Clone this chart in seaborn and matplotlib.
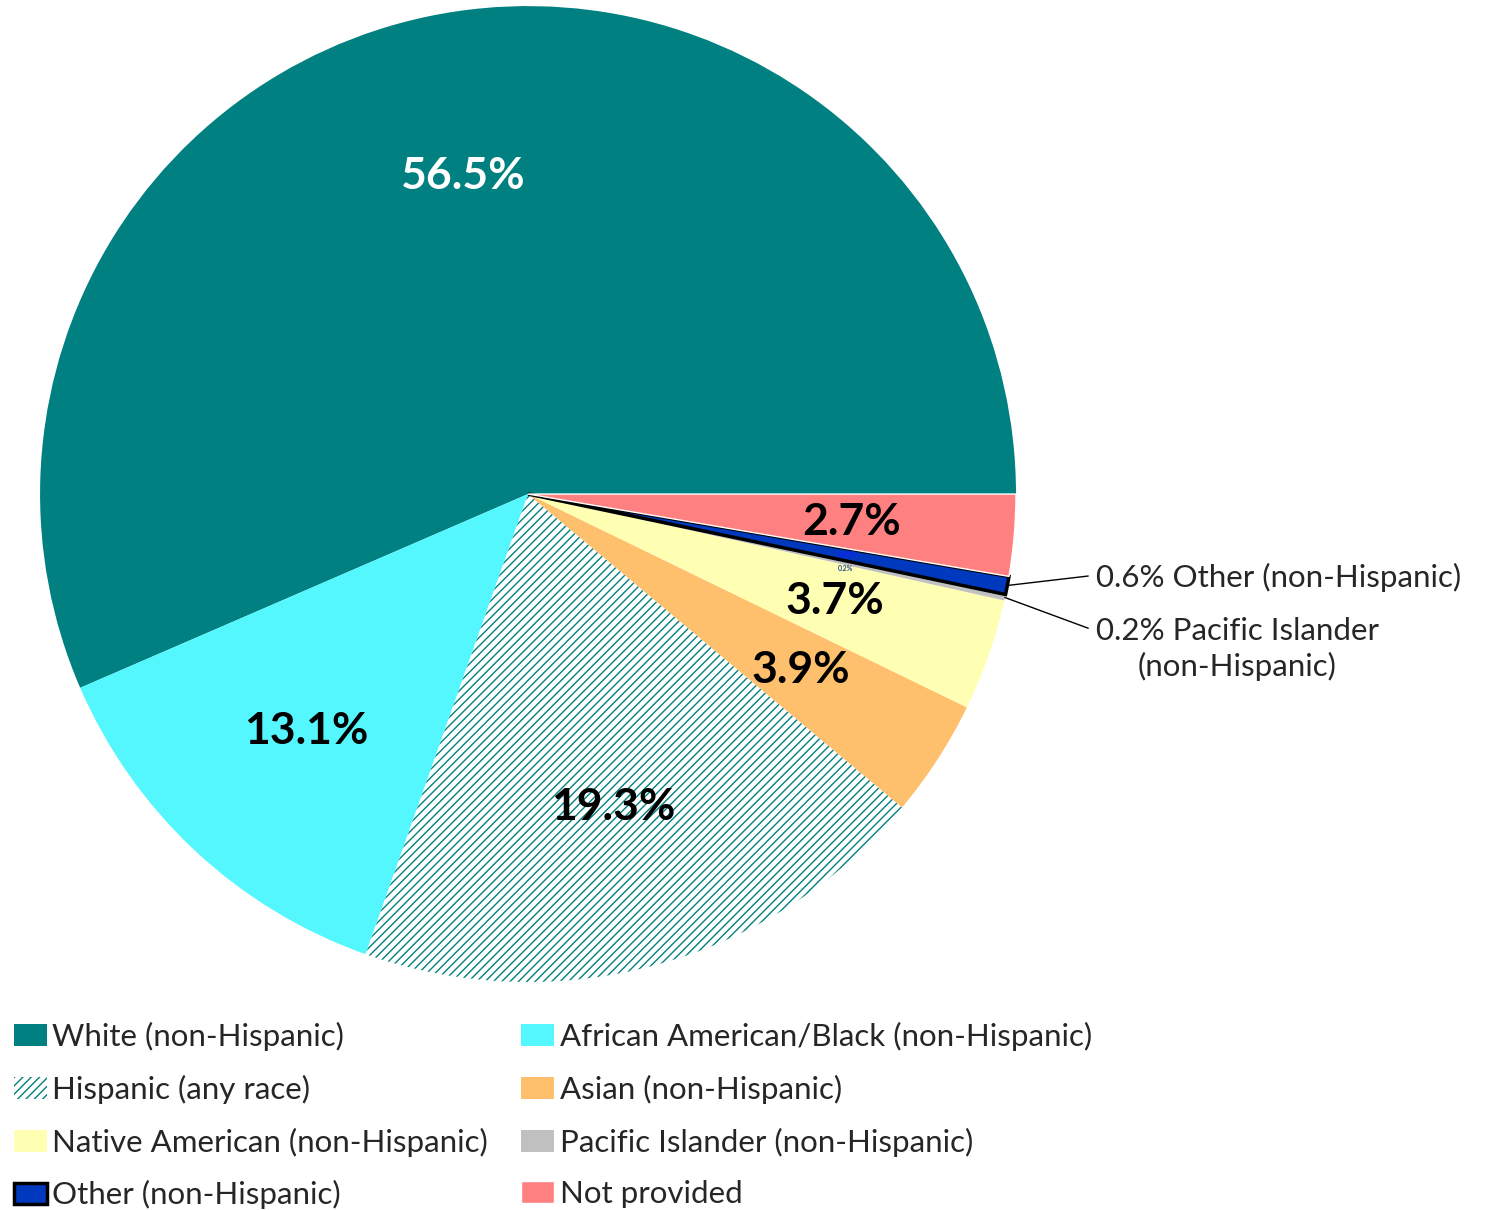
import matplotlib.pyplot as plt
import seaborn as sns
import numpy as np

categories = ["White (non-Hispanic)", "African American/Black (non-Hispanic)", "Hispanic (any race)",
              "Asian (non-Hispanic)", "Native American (non-Hispanic)", "Pacific Islander (non-Hispanic)",
              "Other (non-Hispanic)", "Not provided"]
shares = [56.5, 13.1, 19.3, 3.9, 3.7, 0.2, 0.6, 2.7]
colors = ["#008080", "#55F7FF", "#FFFFFF", "#FFC06E", "#FFFFB3", "#C0C0C0", "#0039BE", "#FF8080"]


sns.set_theme(style="white")
plt.rcParams['font.family'] = ['Lato', 'DejaVu Sans']
plt.rcParams['hatch.linewidth'] = 1.0

fig = plt.figure(figsize=(14.95, 12.1), dpi=100)
ax = fig.add_axes([0.0268, 0.1884, 0.6528, 0.8066])

wedges, texts, autotexts = ax.pie(shares, colors=colors, startangle=0, counterclock=True,
                                  autopct=lambda p: f"{p:.1f}%", pctdistance=0.665,
                                  wedgeprops=dict(linewidth=0))
ax.set_xlim(-1, 1)
ax.set_ylim(-1, 1)
ax.set_aspect('equal')
ax.axis('off')

# hispanic wedge: teal diagonal hatch on white
wedges[2].set_hatch('////')
wedges[2].set_edgecolor('#008080')
wedges[2].set_linewidth(0)
# other wedge: black outline
wedges[6].set_edgecolor('black')
wedges[6].set_linewidth(2.5)
wedges[7].set_edgecolor('white')
wedges[7].set_linewidth(1)

for i, t in enumerate(autotexts):
    t.set_fontweight('bold')
    t.set_fontsize(32)
    t.set_color('black')
autotexts[0].set_color('white')
autotexts[5].set_fontsize(5)
autotexts[5].set_color('#2a4a9a')
autotexts[6].set_fontsize(6)
autotexts[6].set_color('#1a1aff')
# nudge small labels
x, y = autotexts[5].get_position()
autotexts[5].set_position((x, y - 0.012))

# callouts for the two thin slices
def callout(w, txt_xy, line_end, text):
    ang = np.deg2rad((w.theta1 + w.theta2) / 2)
    ax.plot([np.cos(ang), line_end[0]], [np.sin(ang), line_end[1]], color='black', lw=1, clip_on=False)
    ax.text(txt_xy[0], txt_xy[1], text, ha='left', va='center', fontsize=22.5,
            multialignment='center', linespacing=1.3)

callout(wedges[6], (1.163, -0.170), (1.148, -0.168), "0.6% Other (non-Hispanic)")
callout(wedges[5], (1.163, -0.318), (1.148, -0.275), "0.2% Pacific Islander\n(non-Hispanic)")

order = [0, 2, 4, 6, 1, 3, 5, 7]
fig.legend([wedges[i] for i in order], [categories[i] for i in order], ncol=2,
           loc='upper left', bbox_to_anchor=(0.0093, 0.1556), frameon=False, fontsize=22.5,
           handlelength=1.05, handleheight=0.7, handletextpad=0.18, columnspacing=1.06,
           labelspacing=0.76, borderaxespad=0, borderpad=0)

fig.savefig("out.png", dpi=100, facecolor='white')
